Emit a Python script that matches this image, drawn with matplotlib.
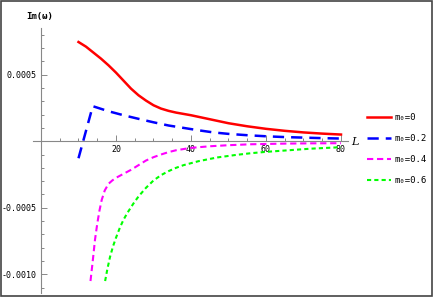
import numpy as np
import matplotlib
matplotlib.use("Agg")
import matplotlib.pyplot as plt
from matplotlib.patches import Rectangle
from matplotlib.ticker import FixedLocator

# values (Im(omega) vs L), in units of 1e-4
red_L = [10, 12, 14, 16, 18, 20, 22, 24, 26, 28, 30, 32, 34, 36, 38, 40,
         45, 50, 55, 60, 65, 70, 75, 80]
red_im = [7.45, 7.1, 6.65, 6.2, 5.7, 5.15, 4.55, 3.95, 3.45, 3.05, 2.7, 2.45,
          2.28, 2.15, 2.05, 1.95, 1.65, 1.35, 1.12, 0.93, 0.78, 0.66, 0.57, 0.5]

blue_L = [10, 13.8, 18, 22, 26, 30, 34, 38, 42, 46, 50, 55, 60, 65, 70, 75, 80]
blue_im = [-1.28, 2.63, 2.25, 1.95, 1.68, 1.42, 1.18, 1.0, 0.82, 0.66, 0.55,
           0.45, 0.37, 0.31, 0.27, 0.23, 0.2]

mag_L = [13.2, 13.8, 14.4, 15.0, 15.6, 16.2, 17, 18, 19, 20, 22, 24, 26, 28,
         30, 32, 34, 36, 40, 45, 50, 56, 65, 72, 80]
mag_im = [-10.5, -9.0, -7.4, -6.2, -5.2, -4.4, -3.7, -3.2, -2.95, -2.75, -2.45,
          -2.15, -1.8, -1.45, -1.2, -1.0, -0.82, -0.68, -0.5, -0.38, -0.3,
          -0.23, -0.18, -0.16, -0.15]

grn_L = [17.1, 17.7, 18.4, 19.2, 20, 21.1, 22, 23, 24.6, 26, 28, 30, 32, 34,
         36, 38, 42, 47, 52, 56, 60, 65, 72, 80]
grn_im = [-10.5, -9.6, -8.7, -7.9, -7.25, -6.45, -5.9, -5.4, -4.7, -4.15, -3.5,
          -2.95, -2.55, -2.25, -2.0, -1.8, -1.5, -1.22, -1.03, -0.9, -0.8,
          -0.7, -0.56, -0.45]

labels = ["m\u2080=0", "m\u2080=0.2", "m\u2080=0.4", "m\u2080=0.6"]
scale = 1e-4

mono = "DejaVu Sans Mono"

fig = plt.figure(figsize=(4.36, 3.0), dpi=100)
ax = fig.add_axes([0.0751, 0.0233, 0.7242, 0.8833])

h1, = ax.plot(red_L, np.array(red_im) * scale, color="#ff0000", lw=1.8, label=labels[0])
h2, = ax.plot(blue_L, np.array(blue_im) * scale, color="#0000ff", lw=1.8,
              dashes=(4.5, 2.8), label=labels[1])
h3, = ax.plot(mag_L, np.array(mag_im) * scale, color="#ff00ff", lw=1.5,
              dashes=(3.0, 1.8), label=labels[2])
h4, = ax.plot(grn_L, np.array(grn_im) * scale, color="#00ff00", lw=1.5,
              dashes=(2.0, 1.5), label=labels[3])

ax.set_xlim(-2.2, 82)
ax.set_ylim(-0.00114, 0.00085)

for s in ["top", "right"]:
    ax.spines[s].set_visible(False)
for s in ["left", "bottom"]:
    ax.spines[s].set_position(("data", 0))
    ax.spines[s].set_color("#888888")
    ax.spines[s].set_linewidth(0.8)

ax.xaxis.set_major_locator(FixedLocator([20, 40, 60, 80]))
ax.xaxis.set_minor_locator(FixedLocator([v for v in range(5, 85, 5) if v % 20]))
ax.yaxis.set_major_locator(FixedLocator([-0.001, -0.0005, 0.0005]))
ax.yaxis.set_minor_locator(FixedLocator([v * 1e-4 for v in range(-11, 9) if v % 5]))
ax.set_xticklabels(["20", "40", "60", "80"])
ax.set_yticklabels(["-0.0010", "-0.0005", "0.0005"])

ax.tick_params(which="both", direction="in", color="#888888", width=0.7)
ax.tick_params(which="major", length=4)
ax.tick_params(which="minor", length=2.5)
ax.tick_params(axis="x", pad=3, labelsize=6)
ax.tick_params(axis="y", pad=3, labelsize=6)
for t in ax.get_xticklabels() + ax.get_yticklabels():
    t.set_fontfamily(mono)

fig.text(40 / 436, 1 - 16 / 300, "Im(\u03c9)", family=mono, fontsize=6.5,
         fontweight="bold", ha="center", va="center")
fig.text(355 / 436, 1 - 142 / 300, "L", family="DejaVu Serif", style="italic",
         fontsize=8, ha="center", va="center")

leg = fig.legend(handles=[h1, h2, h3, h4], loc="upper left",
                 bbox_to_anchor=(367 / 436, 1 - 113 / 300), frameon=False,
                 prop={"family": mono, "size": 6.5}, handlelength=2.66,
                 labelspacing=1.32, handletextpad=0.44, borderaxespad=0,
                 borderpad=0)

fig.add_artist(Rectangle((0.5 / 436, 1 - 296 / 300), 431.5 / 436, 295.5 / 300,
                         transform=fig.transFigure, fill=False,
                         edgecolor="#444444", lw=1.2))

fig.savefig("out.png", dpi=100)
